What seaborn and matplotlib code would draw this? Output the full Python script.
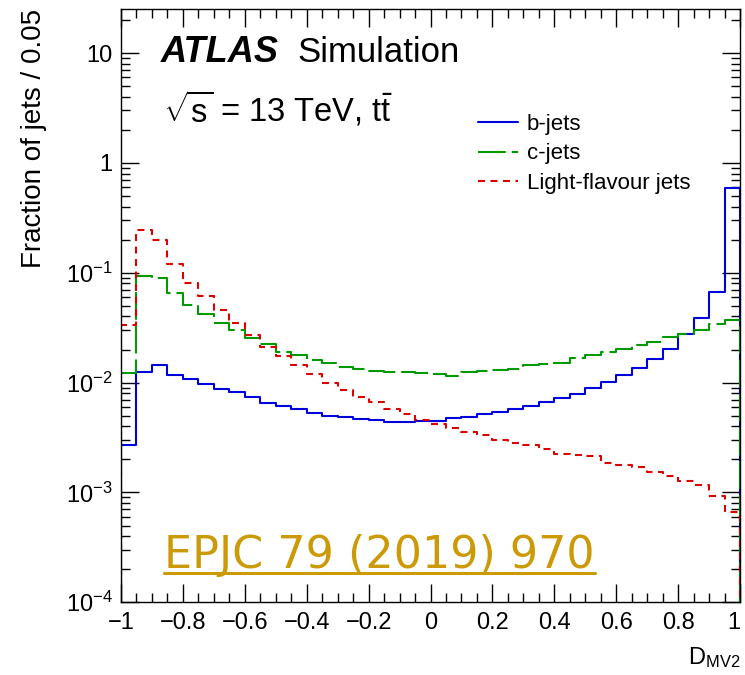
import numpy as np
import pandas as pd
import matplotlib
matplotlib.use("Agg")
import matplotlib.pyplot as plt
from matplotlib.lines import Line2D
from matplotlib.ticker import FixedLocator, FixedFormatter, LogLocator, NullFormatter, MultipleLocator
import seaborn as sns

# ---------------- data (fraction of jets per 0.05 bin, D_MV2 from -1 to 1) ----------------
n_bins = 40
x_range = (-1.0, 1.0)

b_jets = [0.00273, 0.0125, 0.0144, 0.0118, 0.0108, 0.00966, 0.00875, 0.00817, 0.0074, 0.00653,
          0.00606, 0.00569, 0.0053, 0.00501, 0.00487, 0.00464, 0.00454, 0.00442, 0.00438, 0.00451,
          0.00451, 0.00473, 0.00491, 0.00519, 0.00537, 0.0058, 0.00618, 0.00667, 0.0072, 0.00794,
          0.00888, 0.0101, 0.01164, 0.01358, 0.01652, 0.02037, 0.02748, 0.0387, 0.0667, 0.587]

c_jets = [0.0122, 0.0925, 0.0901, 0.0652, 0.0504, 0.0424, 0.0348, 0.0299, 0.0256, 0.0226,
          0.019, 0.0177, 0.0162, 0.0151, 0.0139, 0.0133, 0.0127, 0.0125, 0.0125, 0.0121,
          0.0119, 0.0116, 0.0125, 0.0127, 0.0131, 0.0134, 0.0146, 0.0149, 0.0152, 0.0169,
          0.0177, 0.019, 0.0201, 0.0218, 0.0234, 0.026, 0.0279, 0.0303, 0.0339, 0.0368]

light_jets = [0.0337, 0.2427, 0.1995, 0.1189, 0.0804, 0.0609, 0.0454, 0.0348, 0.0269, 0.0211,
              0.0173, 0.0144, 0.0119, 0.0099, 0.00863, 0.0074, 0.00667, 0.0058, 0.00515, 0.00461,
              0.00418, 0.00382, 0.00356, 0.00332, 0.00299, 0.00279, 0.00269, 0.00251, 0.00226, 0.00218,
              0.00215, 0.00186, 0.00177, 0.00171, 0.00154, 0.00141, 0.00127, 0.00116, 0.000925, 0.000667]

series_labels = ["b-jets", "c-jets", "Light-flavour jets"]

xtick_values = [-1, -0.8, -0.6, -0.4, -0.2, 0, 0.2, 0.4, 0.6, 0.8, 1]
xtick_labels = ["\u22121", "\u22120.8", "\u22120.6", "\u22120.4", "\u22120.2", "0",
                "0.2", "0.4", "0.6", "0.8", "1"]
ytick_values = [1e-4, 1e-3, 1e-2, 1e-1, 1, 10]
ytick_labels = [r"$\mathregular{10^{-4}}$", r"$\mathregular{10^{-3}}$", r"$\mathregular{10^{-2}}$",
                r"$\mathregular{10^{-1}}$", "1", "10"]

# ---------------- style ----------------
sns.set_style("ticks")
plt.rcParams["font.family"] = ["Liberation Sans", "DejaVu Sans"]
plt.rcParams["mathtext.fontset"] = "custom"
plt.rcParams["mathtext.rm"] = "Liberation Sans"
plt.rcParams["mathtext.it"] = "Liberation Sans:italic"
plt.rcParams["mathtext.bf"] = "Liberation Sans:bold"
plt.rcParams["lines.scale_dashes"] = False
plt.rcParams["text.color"] = "black"
plt.rcParams["axes.labelcolor"] = "black"
plt.rcParams["xtick.color"] = "black"
plt.rcParams["ytick.color"] = "black"

colors = ["#0000dd", "#009900", "#dd0000"]
styles = ["-", (0, (20, 4.3)), (0, (5.0, 4.0))]

W, H = 745, 675
fig = plt.figure(figsize=(W / 100, H / 100), dpi=100)
ax = fig.add_axes([121 / W, (H - 602.3) / H, 619 / W, 593 / H])
ax.set_yscale("log")

edges = np.linspace(x_range[0], x_range[1], n_bins + 1)
centers = 0.5 * (edges[:-1] + edges[1:])
df = pd.DataFrame({
    "D": np.tile(centers, 3),
    "frac": np.concatenate([b_jets, c_jets, light_jets]),
    "flavour": np.repeat(series_labels, n_bins),
})

for lab, col, ls in zip(series_labels, colors, styles):
    sns.histplot(data=df[df["flavour"] == lab], x="D", weights="frac", bins=n_bins,
                 binrange=x_range, element="step", fill=False, color=col,
                 linewidth=1.5, linestyle=ls, label=lab, ax=ax)

# close the step outlines down to the bottom at both ends (like ROOT histograms)
for line in ax.lines:
    xd, yd = line.get_data()
    line.set_data(np.r_[xd[0], xd, xd[-1]], np.r_[1e-7, yd, 1e-7])

ax.set_xlim(*x_range)
ax.set_ylim(1e-4, 25)

ax.xaxis.set_major_locator(FixedLocator(xtick_values))
ax.xaxis.set_major_formatter(FixedFormatter(xtick_labels))
ax.xaxis.set_minor_locator(MultipleLocator(0.05))
ax.yaxis.set_major_locator(FixedLocator(ytick_values))
ax.yaxis.set_major_formatter(FixedFormatter(ytick_labels))
ax.yaxis.set_minor_locator(LogLocator(base=10, subs=np.arange(2, 10), numticks=30))
ax.yaxis.set_minor_formatter(NullFormatter())
ax.tick_params(which="both", direction="in", top=True, right=True, width=1.0,
               colors="black", labelsize=17)
ax.tick_params(which="major", length=13)
ax.tick_params(which="minor", length=6.5)
ax.tick_params(axis="x", which="major", pad=7)
ax.tick_params(axis="y", which="major", pad=6)
for sp in ax.spines.values():
    sp.set_color("black")
    sp.set_linewidth(1.0)
    sp.set_visible(True)

ax.set_xlabel(r"D$_{\mathregular{MV2}}$", fontsize=17, loc="right")
ax.xaxis.set_label_coords(1.0, (602.3 - 645) / 593)
ax.set_ylabel("Fraction of jets / 0.05", fontsize=20, loc="top")
ax.yaxis.set_label_coords((47 - 121) / 619, 1.0)

ax.legend(handles=ax.lines, labels=series_labels, loc="upper left",
          bbox_to_anchor=((478.3 - 121) / 619, (602.3 - 114) / 593),
          frameon=False, fontsize=16, handlelength=1.8, handletextpad=0.38,
          labelspacing=0.38, borderpad=0, borderaxespad=0)

fig.text(161 / W, 1 - 61.7 / H, "ATLAS", fontsize=26, fontweight="bold",
         fontstyle="italic", va="baseline")
fig.text(297.3 / W, 1 - 61.7 / H, "Simulation", fontsize=25, va="baseline")
fig.text(163 / W, 1 - 121.7 / H, r"$\sqrt{\mathregular{s}}$ = 13 TeV, $\mathregular{t\bar{t}}$",
         fontsize=23.5, va="baseline")

gold = "#cc9a06"
ref = fig.text(164 / W, 1 - 567.7 / H, "EPJC 79 (2019) 970", fontsize=32, color=gold,
               va="baseline", family=["DejaVu Sans"])
fig.canvas.draw()
bb = ref.get_window_extent(fig.canvas.get_renderer())
uy = 1 - 572.7 / H
fig.add_artist(Line2D([bb.x0 / W, bb.x1 / W], [uy, uy], transform=fig.transFigure,
                      color=gold, linewidth=2.2))

# keep the last x tick label inside the canvas
ax.get_xticklabels()[-1].set_ha("right")

fig.savefig("out.png", dpi=100)
